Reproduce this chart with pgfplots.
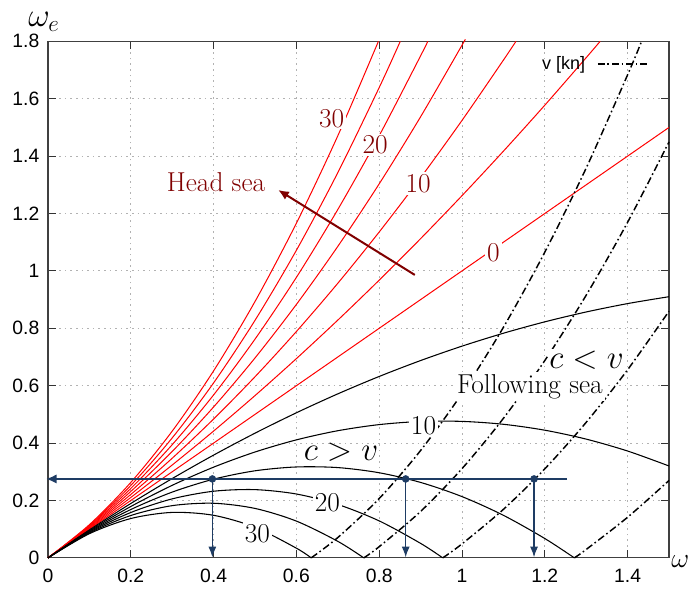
\documentclass[border=0pt]{standalone}
\usepackage{fontspec}
\setsansfont{Liberation Sans}
\usepackage{pgfplots}
\pgfplotsset{compat=1.18}
\usetikzlibrary{arrows.meta}
\definecolor{hred}{RGB}{128,0,0}
\definecolor{navy}{RGB}{30,60,100}
\begin{document}
\begin{tikzpicture}
\begin{axis}[
  scale only axis, width=465.75pt, height=387.4pt,
  xmin=0, xmax=1.5, ymin=0, ymax=1.8,
  xtick={0,0.2,0.4,0.6,0.8,1,1.2,1.4},
  ytick={0,0.2,0.4,0.6,0.8,1,1.2,1.4,1.6,1.8},
  tick align=inside, major tick length=6pt,
  tick style={black!80, line width=0.75pt},
  axis line style={black!75, line width=0.8pt},
  grid=major,
  grid style={gray!60, dash pattern=on 1.2pt off 3pt, line width=0.6pt},
  ticklabel style={font=\sffamily\fontsize{14.5}{17}\selectfont},
  /pgf/number format/assume math mode=true,
  xticklabel style={yshift=-5pt},
  yticklabel style={xshift=-3pt},
  clip=false,
  legend style={draw=none, fill=none, at={(rel axis cs:0.975,0.956)}, anchor=east,
    font=\sffamily\fontsize{13.5}{16}\selectfont},
  legend plot pos=right,
  legend image code/.code={\path (0pt,0pt); \draw[#1] (7pt,0pt) -- (45pt,0pt);},
]
\addlegendimage{black, line width=1pt, dash pattern=on 5pt off 2.2pt on 1.2pt off 2.2pt}
\addlegendentry{v [kn]}

% head sea (red)
\addplot[red, line width=0.75pt] coordinates {(0,0) (1.5,1.5)};
\addplot[red, line width=0.75pt, smooth] coordinates {(0,0) (0.1,0.1026) (0.2,0.2105) (0.3,0.3236) (0.4,0.4419) (0.5,0.5655) (0.6,0.6944) (0.7,0.8285) (0.8,0.9678) (0.9,1.1124) (1.0,1.2622) (1.1,1.4172) (1.2,1.5775) (1.3,1.7431) (1.3337,1.8)};
\addplot[red, line width=0.75pt, smooth] coordinates {(0,0) (0.1,0.1052) (0.2,0.2210) (0.3,0.3472) (0.4,0.4839) (0.5,0.6311) (0.6,0.7888) (0.7,0.9569) (0.8,1.1356) (0.9,1.3247) (1.0,1.5244) (1.1,1.7345) (1.1303,1.8)};
\addplot[red, line width=0.75pt, smooth] coordinates {(0,0) (0.1,0.1079) (0.2,0.2315) (0.3,0.3708) (0.4,0.5258) (0.5,0.6966) (0.6,0.8832) (0.7,1.0854) (0.8,1.3034) (0.9,1.5371) (1.0,1.7865) (1.0052,1.8)};
\addplot[red, line width=0.75pt, smooth] coordinates {(0,0) (0.1,0.1105) (0.2,0.2419) (0.3,0.3944) (0.4,0.5678) (0.5,0.7622) (0.6,0.9775) (0.7,1.2139) (0.8,1.4712) (0.9,1.7495) (0.9174,1.8)};
\addplot[red, line width=0.75pt, smooth] coordinates {(0,0) (0.1,0.1131) (0.2,0.2524) (0.3,0.4180) (0.4,0.6097) (0.5,0.8277) (0.6,1.0719) (0.7,1.3423) (0.8,1.6390) (0.8509,1.8)};
\addplot[red, line width=0.75pt, smooth] coordinates {(0,0) (0.1,0.1157) (0.2,0.2629) (0.3,0.4416) (0.4,0.6517) (0.5,0.8933) (0.6,1.1663) (0.7,1.4708) (0.7981,1.8)};

% following sea (black)
\addplot[black, line width=0.8pt, smooth] coordinates {(0,0) (0.1,0.0974) (0.2,0.1895) (0.3,0.2764) (0.4,0.3581) (0.5,0.4345) (0.6,0.5056) (0.7,0.5715) (0.8,0.6322) (0.9,0.6876) (1.0,0.7378) (1.1,0.7828) (1.2,0.8225) (1.3,0.8569) (1.4,0.8861) (1.5,0.9101)};
\addplot[black, line width=0.8pt, smooth] coordinates {(0,0) (0.1,0.0948) (0.2,0.1790) (0.3,0.2528) (0.4,0.3161) (0.5,0.3689) (0.6,0.4112) (0.7,0.4431) (0.8,0.4644) (0.9,0.4753) (1.0,0.4756) (1.1,0.4655) (1.2,0.4449) (1.3,0.4138) (1.4,0.3723) (1.5,0.3202)};
\addplot[black, line width=0.8pt, smooth] coordinates {(0,0) (0.1,0.0921) (0.2,0.1685) (0.3,0.2292) (0.4,0.2742) (0.5,0.3034) (0.6,0.3168) (0.7,0.3146) (0.8,0.2966) (0.9,0.2629) (1.0,0.2135) (1.1,0.1483) (1.2,0.0674) (1.2714,0)};
\addplot[black, line width=0.8pt, smooth] coordinates {(0,0) (0.1,0.0895) (0.2,0.1581) (0.3,0.2056) (0.4,0.2322) (0.5,0.2378) (0.6,0.2225) (0.7,0.1861) (0.8,0.1288) (0.9,0.0505) (0.9535,0)};
\addplot[black, line width=0.8pt, smooth] coordinates {(0,0) (0.1,0.0869) (0.2,0.1476) (0.3,0.1820) (0.4,0.1903) (0.5,0.1723) (0.6,0.1281) (0.7,0.0576) (0.7628,0)};
\addplot[black, line width=0.8pt, smooth] coordinates {(0,0) (0.1,0.0843) (0.2,0.1371) (0.3,0.1584) (0.4,0.1483) (0.5,0.1067) (0.6,0.0337) (0.6357,0)};

% folded branch (dash-dot)
\addplot[black, line width=1.1pt, dash pattern=on 5.5pt off 2.2pt on 1.2pt off 2.2pt, smooth] coordinates {(1.2714,0) (1.3,0.0293) (1.4,0.1416) (1.5,0.2697)};
\addplot[black, line width=1.1pt, dash pattern=on 5.5pt off 2.2pt on 1.2pt off 2.2pt, smooth] coordinates {(0.9535,0) (1.0,0.0487) (1.1,0.1690) (1.2,0.3102) (1.3,0.4724) (1.4,0.6555) (1.5,0.8596)};
\addplot[black, line width=1.1pt, dash pattern=on 5.5pt off 2.2pt on 1.2pt off 2.2pt, smooth] coordinates {(0.7628,0) (0.8,0.0390) (0.9,0.1618) (1.0,0.3109) (1.1,0.4862) (1.2,0.6877) (1.3,0.9154) (1.4,1.1694) (1.5,1.4495)};
\addplot[black, line width=1.1pt, dash pattern=on 5.5pt off 2.2pt on 1.2pt off 2.2pt, smooth] coordinates {(0.6357,0) (0.7,0.0708) (0.8,0.2068) (0.9,0.3742) (1.0,0.5731) (1.1,0.8034) (1.2,1.0653) (1.3,1.3585) (1.4,1.6833) (1.4338,1.8)};

% head sea arrow
\addplot[hred, line width=1.5pt, -{Latex[length=8pt,width=7pt]}] coordinates {(0.886,0.986) (0.556,1.282)};

% example: constant encounter frequency
\addplot[navy, line width=1.5pt, -{Latex[length=8pt,width=7pt]}] coordinates {(1.254,0.275) (-0.005,0.275)};
\addplot[navy, line width=0.9pt, -{Latex[length=8pt,width=6pt]}] coordinates {(0.397,0.275) (0.397,0.002)};
\addplot[navy, line width=0.9pt, -{Latex[length=8pt,width=6pt]}] coordinates {(0.864,0.275) (0.864,0.002)};
\addplot[navy, line width=0.9pt, -{Latex[length=8pt,width=6pt]}] coordinates {(1.174,0.275) (1.174,0.002)};
\addplot[navy, only marks, mark=*, mark size=2.6pt] coordinates {(0.397,0.275) (0.864,0.275) (1.174,0.275)};

% labels
\node[text=hred, fill=white, inner sep=1.5pt, font=\fontsize{20.5}{24}\selectfont] at (axis cs:0.685,1.532) {30};
\node[text=hred, fill=white, inner sep=1.5pt, font=\fontsize{20.5}{24}\selectfont] at (axis cs:0.790,1.439) {20};
\node[text=hred, fill=white, inner sep=1.5pt, font=\fontsize{20.5}{24}\selectfont] at (axis cs:0.894,1.305) {10};
\node[text=hred, fill=white, inner sep=1.5pt, font=\fontsize{20.5}{24}\selectfont] at (axis cs:1.076,1.062) {0};
\node[text=hred, inner sep=1pt, font=\fontsize{20.5}{24}\selectfont] at (axis cs:0.406,1.310) {Head sea};
\node[fill=white, inner sep=1.5pt, font=\fontsize{20.5}{24}\selectfont] at (axis cs:0.907,0.460) {10};
\node[fill=white, inner sep=1.5pt, font=\fontsize{20.5}{24}\selectfont] at (axis cs:0.675,0.193) {20};
\node[fill=white, inner sep=1.5pt, font=\fontsize{20.5}{24}\selectfont] at (axis cs:0.506,0.085) {30};
\node[fill=white, inner sep=1.5pt, font=\fontsize{20.5}{24}\selectfont] at (axis cs:1.164,0.597) {Following sea};
\node[fill=white, inner sep=1pt, font=\fontsize{25}{30}\selectfont] at (axis cs:1.301,0.690) {$c<v$};
\node[inner sep=1pt, font=\fontsize{25}{30}\selectfont] at (axis cs:0.708,0.369) {$c>v$};
\node[anchor=base west, inner sep=0pt, xshift=-15pt, yshift=11pt, font=\fontsize{25}{30}\selectfont] at (rel axis cs:0,1) {$\omega_e$};
\node[anchor=west, inner sep=0pt, xshift=1.5pt, yshift=-3pt, font=\fontsize{22}{26}\selectfont] at (rel axis cs:1,0) {$\omega$};
\end{axis}
\pgfresetboundingbox
\path ([shift={(-36pt,-25.5pt)}]current axis.south west) rectangle ([shift={(17.25pt,31pt)}]current axis.north east);
\end{tikzpicture}
\end{document}
